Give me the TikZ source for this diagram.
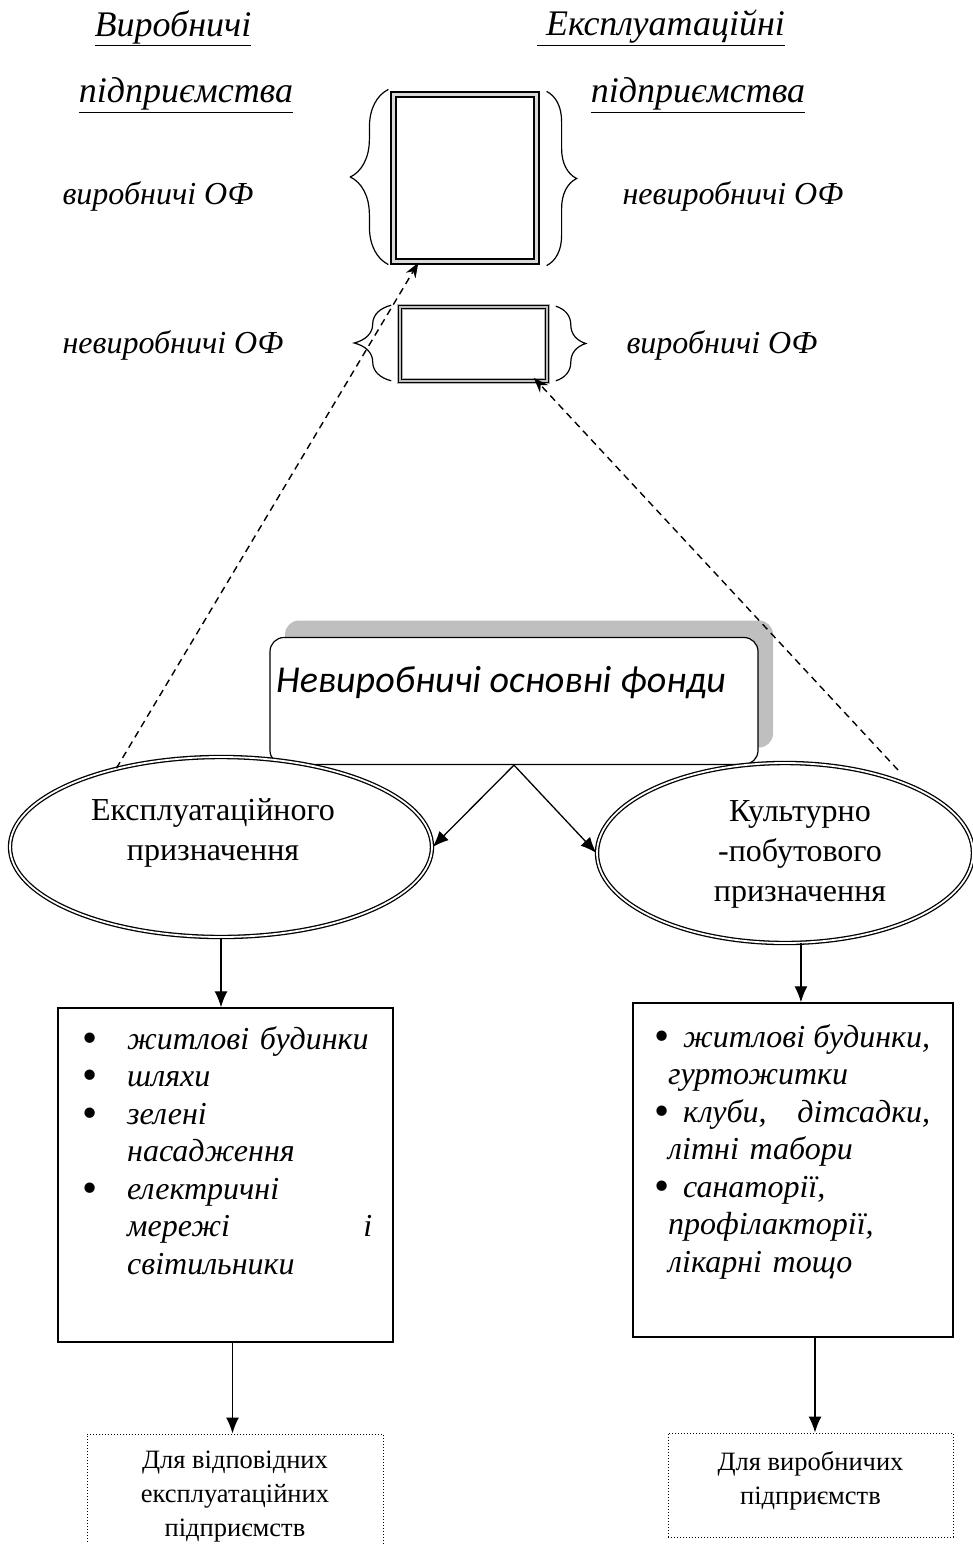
\documentclass[tikz,border=0pt]{standalone}
\usepackage{fontspec}
\setmainfont{Liberation Serif}
\newfontfamily\headfont{Carlito}
\usetikzlibrary{positioning,calc,arrows.meta,shadows,shapes.geometric,decorations.pathreplacing}

\newcommand{\bul}{\upshape\raisebox{-3pt}[0pt][0pt]{\scalebox{1.35}{\textbullet}}}
\newcommand{\lbul}{\makebox[45pt][l]{\bul}}
\newcommand{\lind}{\hspace*{45pt}}
\newcommand{\rbul}{\makebox[29pt][l]{\bul}}
\newcommand{\rind}{\hspace*{14pt}}

\begin{document}
\begin{tikzpicture}[
        x=1pt, y=-1pt,
        % підписи вгорі
        toplbl/.style={font=\itshape\fontsize{36}{40}\selectfont, inner sep=0pt},
        oflbl/.style={font=\itshape\fontsize{32}{38}\selectfont, inner sep=0pt},
        % рамки ОФ
        bigbox/.style={rectangle, draw=black, double=gray!30, line width=2.2pt,
            double distance=3pt, minimum width=143, minimum height=167},
        smallbox/.style={rectangle, draw=black, double=gray!50, line width=1.6pt,
            double distance=1.5pt, preaction={draw=gray!60, line width=6pt},
            minimum width=147, minimum height=74},
        brc/.style={decorate, decoration={brace, amplitude=#1, aspect=0.5}, line width=1.2pt},
        % заголовок
        headbox/.style={rectangle, draw, rounded corners=14pt, fill=white, line width=1.2pt,
            minimum width=488, minimum height=127, text height=22pt, text depth=40pt,
            font=\headfont\itshape\fontsize{38}{44}\selectfont,
            drop shadow={shadow xshift=15pt, shadow yshift=17pt, fill=gray!50, opacity=1}},
        % еліпси
        ell/.style={ellipse, draw, fill=white, double, line width=1.3pt, double distance=1.8pt,
            inner sep=0pt, font=\fontsize{32}{40}\selectfont},
        % списки
        listbox/.style={rectangle, draw, line width=1.5pt},
        listtext/.style={anchor=north west, align=left, inner sep=0pt,
            font=\itshape\fontsize{32}{37.5}\selectfont},
        outbox/.style={rectangle, draw, dotted, line width=1pt, align=center,
            font=\fontsize{26.5}{34}\selectfont},
        % стрілки
        arr/.style={-{Latex[length=16pt,width=13pt]}, line width=1.3pt},
        darr/.style={dash pattern=on 7pt off 5pt, -{Stealth[length=15pt,width=11pt]}, line width=1.4pt}
    ]
    \useasboundingbox (0,0) rectangle (973,1544);

    % Підприємства
    \node [toplbl] (vyrob) at (173,28) {\underline{Виробничі}};
    \node [toplbl] (vyrobp) at (186,95) {\underline{підприємства}};
    \node [toplbl] (ekspl) at (661,28) {\underline{\ Експлуатаційні}};
    \node [toplbl] (eksplp) at (698,95) {\underline{підприємства}};

    % Рамки ОФ
    \node [bigbox] (topbox) at (465,178) {};
    \node [smallbox] (smallbox) at (473.5,344) {};
    \draw [brc=38] ($(topbox.south west)+(-4,2)$) -- ($(topbox.north west)+(-4,-4)$);
    \draw [brc=30] ($(topbox.north east)+(9,-2)$) -- ($(topbox.south east)+(9,3)$);
    \draw [brc=37] ($(smallbox.south west)+(-8,-1)$) -- ($(smallbox.north west)+(-8,-1)$);
    \draw [brc=30] ($(smallbox.north east)+(8,0)$) -- ($(smallbox.south east)+(8,-1)$);
    \node [oflbl] (lof1) at (158,196) {виробничі ОФ};
    \node [oflbl] (rof1) at (733,196) {невиробничі ОФ};
    \node [oflbl] (lof2) at (173,345) {невиробничі ОФ};
    \node [oflbl] (rof2) at (722,345) {виробничі ОФ};

    % Невиробничі основні фонди
    \node [headbox] (head) at (514,701) {\hspace*{-26pt}Невиробничі основні фонди};
    \node [ell, minimum width=422, minimum height=180] (lell) at (221,847)
        {\begin{tabular}{c@{\hspace{22pt}}}Експлуатаційного\\призначення\\[30pt]\end{tabular}};
    \node [ell, minimum width=376, minimum height=180] (rell) at (785,853)
        {\begin{tabular}{@{\hspace{36pt}}c}Культурно\\-побутового\\призначення\end{tabular}};

    % Списки
    \node [listbox, minimum width=335, minimum height=334] (lbox) at (225.5,1175) {};
    \node [listtext, text width=290] (ltext) at (82,1026) {%
        \lbul житлові будинки\\
        \lbul шляхи\\
        \lbul зелені\\
        \lind насадження\\
        \lbul електричні\\
        \lind мережі\hfill і\\
        \lind світильники};
    \node [listbox, minimum width=320, minimum height=334] (rbox) at (793,1170) {};
    \node [listtext, text width=276] (rtext) at (654,1024) {%
        \rbul житлові\hfill будинки,\\
        \rind гуртожитки\\
        \rbul клуби,\hfill дітсадки,\\
        \rind літні табори\\
        \rbul санаторії,\\
        \rind профілакторії,\\
        \rind лікарні тощо};

    % Для підприємств
    \node [outbox, minimum width=296, minimum height=126] (lout) at (235,1497)
        {Для відповідних\\експлуатаційних\\підприємств};
    \node [outbox, minimum width=285, minimum height=104] (rout) at (810.5,1485)
        {Для виробничих\\підприємств\\[-20pt]\mbox{}};

    % Стрілки
    \coordinate (lbot) at ($(lbox.south)+(7,0)$);
    \coordinate (rbot) at ($(rbox.south)+(22,0)$);
    \coordinate (rdash) at ($(rell.center)+(113,-83)$);
    \draw [arr] (head.south) -- (lell.east);
    \draw [arr] (head.south) -- (rell.west);
    \draw [arr] (lell.south) -- (lell.south |- lbox.north);
    \draw [arr] (rell.280) -- (rell.280 |- rbox.north);
    \draw [arr] (lbot) -- (lbot |- lout.north);
    \draw [arr] (rbot) -- (rbot |- rout.north);
    \draw [darr] (lell.143) -- ($(topbox.south west)+(26,0)$);
    \draw [darr] (rdash) -- ($(smallbox.south east)+(-14,-4)$);
\end{tikzpicture}
\end{document}
